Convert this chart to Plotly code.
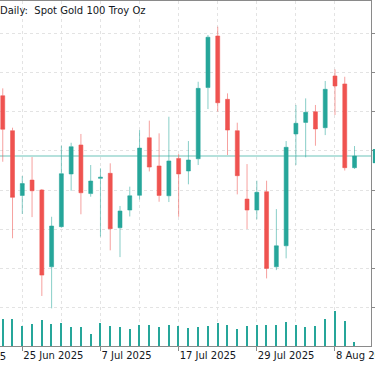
import plotly.graph_objects as go

# ---------------- data ----------------
dates = ["23 Jun 2025", "24 Jun 2025", "25 Jun 2025", "26 Jun 2025", "27 Jun 2025",
         "30 Jun 2025", "1 Jul 2025", "2 Jul 2025", "3 Jul 2025", "4 Jul 2025",
         "7 Jul 2025", "8 Jul 2025", "9 Jul 2025", "10 Jul 2025", "11 Jul 2025",
         "14 Jul 2025", "15 Jul 2025", "16 Jul 2025", "17 Jul 2025", "18 Jul 2025",
         "21 Jul 2025", "22 Jul 2025", "23 Jul 2025", "24 Jul 2025", "25 Jul 2025",
         "28 Jul 2025", "29 Jul 2025", "30 Jul 2025", "31 Jul 2025", "1 Aug 2025",
         "4 Aug 2025", "5 Aug 2025", "6 Aug 2025", "7 Aug 2025", "8 Aug 2025",
         "11 Aug 2025", "12 Aug 2025"]

open_ = [3385.2, 3362.9, 3321.6, 3331.4, 3325.1, 3276.1, 3301.7, 3335.3, 3353.8, 3322.8,
         3332.5, 3335.7, 3301.0, 3312.3, 3321.7, 3358.4, 3340.4, 3321.4, 3345.2, 3337.2,
         3345.0, 3390.4, 3423.3, 3382.9, 3362.9, 3319.3, 3312.3, 3324.0, 3276.1, 3289.5,
         3360.8, 3368.2, 3375.0, 3364.8, 3397.8, 3392.7, 3339.3]
high = [3389.9, 3364.8, 3334.0, 3346.1, 3325.7, 3308.0, 3353.3, 3355.2, 3360.8, 3341.0,
        3338.9, 3342.1, 3314.9, 3327.2, 3363.3, 3369.3, 3361.2, 3371.8, 3348.0, 3356.3,
        3394.1, 3423.9, 3429.2, 3386.7, 3368.0, 3341.6, 3331.0, 3331.0, 3312.9, 3356.3,
        3379.3, 3383.5, 3379.3, 3394.6, 3402.0, 3397.3, 3353.1]
low = [3343.1, 3294.3, 3309.8, 3307.8, 3257.5, 3249.6, 3301.0, 3324.6, 3309.6, 3320.8,
       3295.4, 3286.6, 3282.3, 3308.2, 3319.1, 3336.9, 3317.6, 3317.4, 3308.0, 3328.7,
       3341.0, 3376.7, 3375.0, 3347.4, 3322.3, 3300.2, 3306.4, 3268.7, 3274.0, 3281.5,
       3341.0, 3345.9, 3353.3, 3360.1, 3372.9, 3337.5, 3338.5]
close = [3363.8, 3320.4, 3329.2, 3324.6, 3270.8, 3302.1, 3335.5, 3352.7, 3323.3, 3330.8,
         3333.2, 3300.4, 3311.7, 3321.4, 3351.8, 3339.7, 3321.6, 3343.6, 3335.3, 3344.2,
         3389.9, 3422.5, 3380.7, 3363.3, 3334.2, 3312.3, 3323.6, 3275.1, 3289.5, 3352.3,
         3367.6, 3374.6, 3364.0, 3389.3, 3391.4, 3339.3, 3346.7]
volume = [107000, 107000, 80000, 87000, 104000, 87000, 91000, 76000, 75000, 48000,
          91000, 81000, 75000, 69000, 84000, 84000, 76000, 84000, 80000, 72000,
          76000, 81000, 93000, 84000, 69000, 80000, 84000, 84000, 84000, 95000,
          84000, 76000, 80000, 108000, 141000, 101000, 16000]

label_idx = [2, 10, 18, 26, 34]            # positions of labelled dates
prior_label = "13 Jun 2025"                # partly visible label left of the view
prior_label_idx = -6
price_grid = [3250, 3275, 3300, 3325, 3350, 3375, 3400, 3425]
title_text = "Daily:\u00a0 Spot Gold 100 Troy Oz"

# ---------------- style ----------------
UP = "#26a69a"
DOWN = "#ef5350"
GRID = "#e3e3e3"
AXIS = "#8a8a8a"
FONT = "DejaVu Sans"

idx = list(range(len(dates)))
xmin, xmax = -0.281, 37.685
ymin, ymax = 3225.6, 3445.6

fig = go.Figure()
fig.add_trace(go.Bar(
    x=idx, y=volume, yaxis="y2", width=0.14,
    marker=dict(color=UP, line=dict(width=0)),
    hoverinfo="skip", showlegend=False))
fig.add_trace(go.Candlestick(
    x=idx, open=open_, high=high, low=low, close=close,
    increasing=dict(line=dict(color="rgba(38,166,154,0.55)", width=1), fillcolor=UP),
    decreasing=dict(line=dict(color="rgba(239,83,80,0.55)", width=1), fillcolor=DOWN),
    whiskerwidth=0, showlegend=False))

# current price line + tag
fig.add_shape(type="line", xref="paper", x0=0, x1=1, yref="y",
              y0=close[-1], y1=close[-1], layer="below",
              line=dict(color="rgba(38,166,154,0.45)", width=1.5))
fig.add_shape(type="rect", xref="paper", x0=1.005, x1=1.03, yref="y",
              y0=close[-1] - 4.5, y1=close[-1] + 4.5,
              fillcolor=UP, line=dict(width=0))

fig.add_annotation(text=title_text, xref="paper", yref="paper", x=0, y=1,
                   xanchor="left", yanchor="top", xshift=-2, yshift=-2,
                   showarrow=False, font=dict(family=FONT, size=10, color="#131722"))
fig.add_annotation(text=prior_label, xref="paper", yref="paper",
                   x=(prior_label_idx - xmin) / (xmax - xmin), y=0,
                   xanchor="left", yanchor="top", yshift=-3,
                   showarrow=False, font=dict(family=FONT, size=10, color="#131722"))

fig.update_layout(
    width=375, height=366, autosize=False,
    margin=dict(l=0, r=4, t=1, b=20, pad=0, autoexpand=False),
    paper_bgcolor="white", plot_bgcolor="white",
    showlegend=False, boxgap=0.42, bargap=0,
    xaxis=dict(
        range=[xmin, xmax], tickmode="array", automargin=False,
        tickvals=label_idx, ticktext=[dates[i] for i in label_idx],
        ticklabelposition="outside right", ticklabeloverflow="allow",
        ticks="outside", ticklen=4, tickcolor=AXIS,
        showline=True, linecolor=AXIS, linewidth=1, mirror=True,
        showgrid=True, gridcolor=GRID, griddash="dot", gridwidth=1,
        minor=dict(tickmode="linear", tick0=2, dtick=4, showgrid=True,
                   gridcolor=GRID, griddash="dot", gridwidth=1, ticks=""),
        tickfont=dict(family=FONT, size=10, color="#131722"),
        zeroline=False, rangeslider=dict(visible=False), fixedrange=True),
    yaxis=dict(
        range=[ymin, ymax], side="right", tickmode="array", tickvals=price_grid,
        showticklabels=False, ticks="outside", ticklen=3, tickcolor=AXIS,
        showline=True, linecolor=AXIS, linewidth=1, automargin=False,
        showgrid=True, gridcolor=GRID, griddash="dot", gridwidth=1,
        zeroline=False, fixedrange=True),
    yaxis2=dict(overlaying="y", range=[0, 1380000], visible=False, fixedrange=True),
)

fig.write_html("out.html", config={"displayModeBar": False},
               post_script="document.body.style.margin='0px';"
                           "document.body.style.overflow='hidden';")
